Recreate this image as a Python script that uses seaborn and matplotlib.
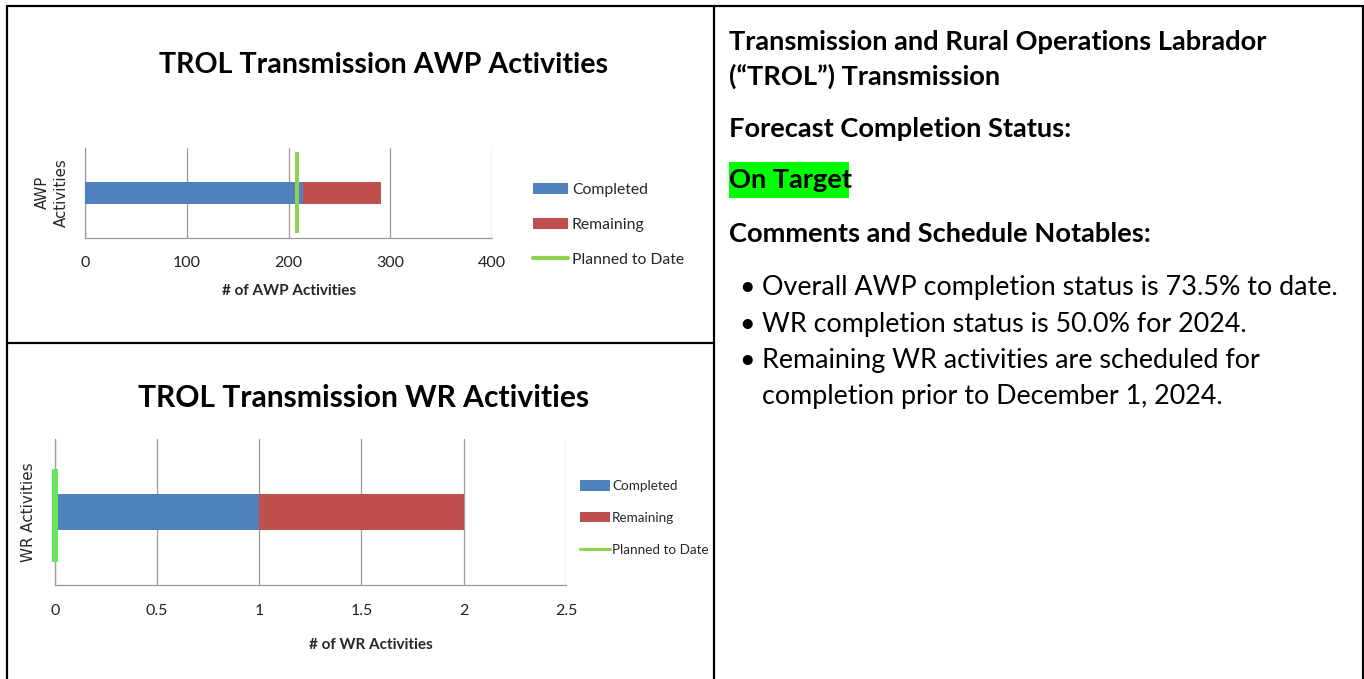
import matplotlib.pyplot as plt
import numpy as np
import pandas as pd
import seaborn as sns
from matplotlib.lines import Line2D
from matplotlib.patches import Patch, Rectangle

# values
awp_completed = [214]
awp_remaining = [77]
awp_planned = [208]
awp_ticks = [0, 100, 200, 300, 400]

wr_completed = [1]
wr_remaining = [1]
wr_planned = [0]
wr_ticks = [0, 0.5, 1, 1.5, 2, 2.5]
wr_tick_labels = ["0", "0.5", "1", "1.5", "2", "2.5"]

legend_labels = ["Completed", "Remaining", "Planned to Date"]

headings = [
    "Transmission and Rural Operations Labrador",
    "(\u201cTROL\u201d) Transmission",
    "Forecast Completion Status:",
    "On Target",
    "Comments and Schedule Notables:",
]
bullets = [
    "Overall AWP completion status is 73.5% to date.",
    "WR completion status is 50.0% for 2024.",
    "Remaining WR activities are scheduled for",
    "completion prior to December 1, 2024.",
]

BLUE = "#4F81BD"
RED = "#C0504D"
GREEN = "#92D050"
GREEN_WR = "#62E858"
GRID = "#9A9A9A"
W, H = 1364, 679

sns.set_theme(style="white")
plt.rcParams["font.family"] = ["Lato", "DejaVu Sans"]

fig = plt.figure(figsize=(W / 100, H / 100), dpi=100)
renderer = fig.canvas.get_renderer()


def fx(x):
    return x / W


def fy(y):
    return 1 - y / H


def fit_width(txt, width_px):
    bb = txt.get_window_extent(renderer=renderer)
    txt.set_fontsize(txt.get_fontsize() * width_px / bb.width)
    return txt.get_fontsize()


def draw_chart(ax, name, completed, remaining, planned, line_span, line_color, line_w):
    total = [c + r for c, r in zip(completed, remaining)]
    sns.barplot(x=total, y=[name], color=RED, width=0.25, saturation=1,
                errorbar=None, linewidth=0, ax=ax, zorder=3)
    sns.barplot(x=completed, y=[name], color=BLUE, width=0.25, saturation=1,
                errorbar=None, linewidth=0, ax=ax, zorder=3)
    ax.plot([planned[0], planned[0]], line_span, color=line_color, lw=line_w,
            solid_capstyle="butt", clip_on=False, zorder=5)
    ax.set_ylim(0.5, -0.5)
    ax.set_yticks([])
    ax.grid(axis="x", color=GRID, lw=0.9)
    ax.set_axisbelow(True)
    for s in ["top", "right"]:
        ax.spines[s].set_visible(False)
    for s in ["left", "bottom"]:
        ax.spines[s].set_color(GRID)
        ax.spines[s].set_linewidth(0.9)
    ax.tick_params(axis="x", direction="out", length=3.6, width=0.9, color=GRID,
                   pad=10, labelsize=11.5, labelcolor="#222222")


# AWP chart
ax1 = fig.add_axes([fx(85), fy(237.5), fx(492 - 85), (237.5 - 148) / H])
draw_chart(ax1, "AWP", awp_completed, awp_remaining, awp_planned,
           [-0.46, 0.45], GREEN, 2.9)
ax1.set_xlim(0, 400)
ax1.set_xticks(awp_ticks)
ax1.set_xlabel("# of AWP Activities", fontsize=11, fontweight="bold", va="center")
ax1.xaxis.set_label_coords(0.501, -0.6)
ax1.set_ylabel("AWP\nActivities", fontsize=10.8, family="DejaVu Sans",
               va="center", linespacing=1.35)
ax1.yaxis.set_label_coords(-0.081, 0.5)
ax1.legend(
    [Patch(fc=BLUE, ec="none"), Patch(fc=RED, ec="none"), Line2D([0], [0], color=GREEN, lw=3)],
    legend_labels, loc="center left", bbox_to_anchor=(fx(533), fy(225)),
    bbox_transform=fig.transFigure, frameon=False, fontsize=11.3,
    handlelength=2.23, handleheight=0.7, handletextpad=0.25, labelspacing=1.32,
    borderpad=0, borderaxespad=0,
)

# WR chart
ax2 = fig.add_axes([fx(54.7), fy(585), fx(566 - 54.7), (585 - 439) / H])
draw_chart(ax2, "WR", wr_completed, wr_remaining, wr_planned,
           [-0.295, 0.34], GREEN_WR, 4.3)
ax2.set_xlim(0, 2.5)
ax2.set_xticks(wr_ticks)
ax2.set_xticklabels(wr_tick_labels)
ax2.set_xlabel("# of WR Activities", fontsize=11, fontweight="bold", va="center")
ax2.xaxis.set_label_coords(0.618, -0.41)
ax2.set_ylabel("WR Activities", fontsize=10.9, family="DejaVu Sans", va="center")
ax2.yaxis.set_label_coords(-0.052, 0.5)
ax2.legend(
    [Patch(fc=BLUE, ec="none"), Patch(fc=RED, ec="none"), Line2D([0], [0], color=GREEN, lw=2.2)],
    legend_labels, loc="center left", bbox_to_anchor=(fx(580), fy(518)),
    bbox_transform=fig.transFigure, frameon=False, fontsize=9.7,
    handlelength=2.22, handleheight=0.8, handletextpad=0.15, labelspacing=1.47,
    borderpad=0, borderaxespad=0,
)

# chart titles
t1 = fig.text(fx(383.5), fy(73), "TROL Transmission AWP Activities", ha="center",
              va="baseline", fontsize=20, fontweight="bold", color="black")
fit_width(t1, 449)
t2 = fig.text(fx(364), fy(407), "TROL Transmission WR Activities", ha="center",
              va="baseline", fontsize=20, fontweight="bold", color="black")
fit_width(t2, 450)

# right hand column
head_y = [50, 85, 137, 188, 242]
size = None
for i, (txt, y) in enumerate(zip(headings, head_y)):
    t = fig.text(fx(729), fy(y), txt, ha="left", va="baseline",
                 fontsize=17, fontweight="bold", color="black", zorder=5)
    if size is None:
        size = fit_width(t, 541)
    else:
        t.set_fontsize(size)
fig.add_artist(Rectangle((fx(729), fy(198)), fx(849 - 729), (198 - 162) / H,
                         transform=fig.transFigure, fc="#00FF00", ec="none", zorder=1))

bullet_y = [295, 332, 368, 404]
bsize = None
for i, (txt, y) in enumerate(zip(bullets, bullet_y)):
    t = fig.text(fx(762), fy(y), txt, ha="left", va="baseline", fontsize=18, color="black")
    if bsize is None:
        bsize = fit_width(t, 575)
    else:
        t.set_fontsize(bsize)
    if i < 3:
        fig.text(fx(739), fy(y), "\u2022", ha="left", va="baseline",
                 fontsize=bsize, color="black")

# table borders
lw = 1.6
for (x0, y0, x1, y1) in [(6.5, 6, 1362.5, 6), (6.5, 6, 6.5, 679), (713.5, 6, 713.5, 679),
                         (1362.5, 6, 1362.5, 679), (6.5, 343, 713.5, 343)]:
    fig.add_artist(Line2D([fx(x0), fx(x1)], [fy(y0), fy(y1)], transform=fig.transFigure,
                          color="black", lw=lw))

fig.savefig("out.png", dpi=100)
